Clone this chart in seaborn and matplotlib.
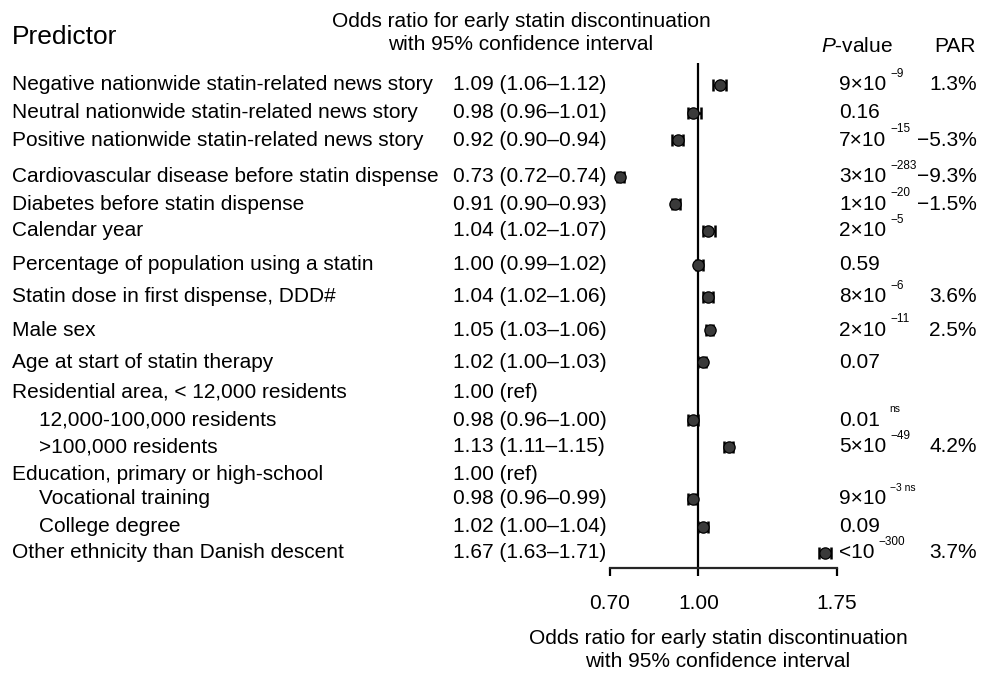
import numpy as np
import pandas as pd
import matplotlib
matplotlib.use("Agg")
import matplotlib.pyplot as plt
import matplotlib.transforms as mtransforms
import seaborn as sns

# data
predictors = [
    "Negative nationwide statin-related news story",
    "Neutral nationwide statin-related news story",
    "Positive nationwide statin-related news story",
    "Cardiovascular disease before statin dispense",
    "Diabetes before statin dispense",
    "Calendar year",
    "Percentage of population using a statin",
    "Statin dose in first dispense, DDD#",
    "Male sex",
    "Age at start of statin therapy",
    "Residential area, < 12,000 residents",
    "12,000-100,000 residents",
    ">100,000 residents",
    "Education, primary or high-school",
    "Vocational training",
    "College degree",
    "Other ethnicity than Danish descent",
]
indented = [False] * 11 + [True, True, False, True, True, False]
odds_ratio = [1.09, 0.98, 0.92, 0.73, 0.91, 1.04, 1.00, 1.04, 1.05, 1.02,
              np.nan, 0.98, 1.13, np.nan, 0.98, 1.02, 1.67]
ci_low = [1.06, 0.96, 0.90, 0.72, 0.90, 1.02, 0.99, 1.02, 1.03, 1.00,
          np.nan, 0.96, 1.11, np.nan, 0.96, 1.00, 1.63]
ci_high = [1.12, 1.01, 0.94, 0.74, 0.93, 1.07, 1.02, 1.06, 1.06, 1.03,
           np.nan, 1.00, 1.15, np.nan, 0.99, 1.04, 1.71]
# P-values as base text + superscript
p_base = ["9×10", "0.16", "7×10", "3×10", "1×10", "2×10", "0.59", "8×10", "2×10",
          "0.07", "", "0.01", "5×10", "", "9×10", "0.09", "<10"]
p_exp = ["\u22129", "", "\u221215", "\u2212283", "\u221220", "\u22125", "", "\u22126",
         "\u221211", "", "", "ns", "\u221249", "", "\u22123 ns", "", "\u2212300"]
par = ["1.3%", "", "\u22125.3%", "\u22129.3%", "\u22121.5%", "", "", "3.6%", "2.5%",
       "", "", "", "4.2%", "", "", "", "3.7%"]
x_ticks = [0.70, 1.00, 1.75]

# layout: row centres in pixels from the top of the figure
row_y = [85, 113, 140, 177, 204, 231, 265, 297, 330, 362, 392, 420, 447,
         474, 499, 527, 553]

df = pd.DataFrame({"or": odds_ratio, "lo": ci_low, "hi": ci_high, "y": row_y})

sns.set_style("white")
plt.rcParams["font.family"] = ["Liberation Sans", "DejaVu Sans"]
plt.rcParams["mathtext.fontset"] = "custom"
plt.rcParams["mathtext.rm"] = "Liberation Sans"
plt.rcParams["mathtext.it"] = "Liberation Sans:italic"
plt.rcParams["text.color"] = "black"
plt.rcParams["axes.labelcolor"] = "black"
plt.rcParams["xtick.color"] = "black"

W, H = 982, 676
fig = plt.figure(figsize=(W / 100, H / 100), dpi=100)
ax = fig.add_axes([610 / W, 1 - 568 / H, 227 / W, (568 - 63) / H])

ax.errorbar(df["or"], df["y"], xerr=[df["or"] - df["lo"], df["hi"] - df["or"]],
            fmt="none", ecolor="black", elinewidth=1.8, capsize=4.3, capthick=1.8,
            zorder=2)
sns.scatterplot(data=df, x="or", y="y", ax=ax, s=66, color="#3a3a3a",
                edgecolor="black", linewidth=0.9, zorder=3, legend=False)
ax.axvline(1.0, color="black", lw=1.6, zorder=1)

ax.set_xscale("log")
ax.set_xlim(0.70, 1.75)
ax.set_ylim(568, 63)
ax.set_xticks(x_ticks)
ax.set_xticklabels([f"{t:.2f}" for t in x_ticks])
ax.minorticks_off()
ax.set_yticks([])
ax.set_ylabel("")
for s in ["top", "right", "left"]:
    ax.spines[s].set_visible(False)
ax.spines["bottom"].set_linewidth(1.6)
ax.tick_params(axis="x", direction="out", length=6, width=1.6, pad=13,
               labelsize=15, bottom=True)
ax.set_xlabel("Odds ratio for early statin discontinuation\nwith 95% confidence interval",
              fontsize=15, linespacing=1.3)
ax.xaxis.set_label_coords((718 - 610) / 227, -0.12)

# text columns: x in figure pixels, y in row pixels
tr = mtransforms.blended_transform_factory(
    mtransforms.Affine2D().scale(1 / W, 1) + fig.transFigure, ax.transData)

renderer = fig.canvas.get_renderer()
for i, name in enumerate(predictors):
    y = row_y[i]
    ax.text(39 if indented[i] else 12, y, name, transform=tr, ha="left",
            va="center", fontsize=15, clip_on=False)
    if np.isnan(odds_ratio[i]):
        or_txt = "1.00 (ref)"
    else:
        or_txt = f"{odds_ratio[i]:.2f} ({ci_low[i]:.2f}\u2013{ci_high[i]:.2f})"
    ax.text(453, y, or_txt, transform=tr, ha="left", va="center", fontsize=15,
            clip_on=False)
    if p_base[i]:
        t = ax.text(839, y, p_base[i], transform=tr, ha="left", va="center",
                    fontsize=15, clip_on=False)
        if p_exp[i]:
            x1 = t.get_window_extent(renderer).x1 * W / fig.bbox.width
            gap = 9 if p_exp[i] == "ns" else 4
            ax.text(x1 + gap, y - 8, p_exp[i], transform=tr, ha="left",
                    va="baseline", fontsize=8.5 if "ns" not in p_exp[i] else 7.5,
                    clip_on=False)
    if par[i]:
        ax.text(977, y, par[i], transform=tr, ha="right", va="center",
                fontsize=15, clip_on=False)

# headers
fig.text(12 / W, 1 - 37 / H, "Predictor", ha="left", va="center", fontsize=19)
fig.text(521 / W, 1 - 33 / H,
         "Odds ratio for early statin discontinuation\nwith 95% confidence interval",
         ha="center", va="center", fontsize=15, linespacing=1.3)
fig.text(857 / W, 1 - 46 / H, r"$P$-value", ha="center", va="center", fontsize=15)
fig.text(955 / W, 1 - 46 / H, "PAR", ha="center", va="center", fontsize=15)

fig.savefig("out.png", dpi=100, facecolor="white")
